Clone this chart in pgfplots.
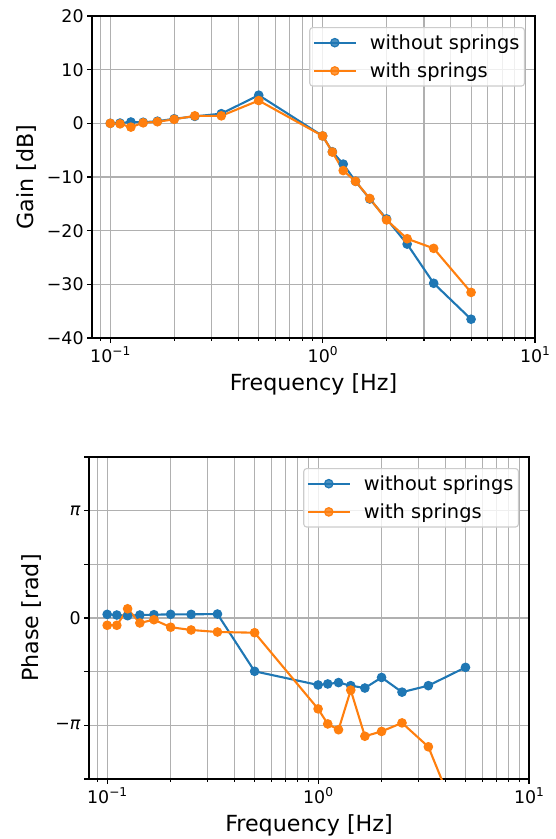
\documentclass[border=0pt]{standalone}
\usepackage{fontspec}
\setmainfont{DejaVu Sans}
\usepackage{pgfplots}
\pgfplotsset{compat=1.18}
\usepackage{pgfplotstable}

\definecolor{tabblue}{HTML}{1F77B4}
\definecolor{taborange}{HTML}{FF7F0E}
\definecolor{gridgray}{HTML}{B0B0B0}
\definecolor{legedge}{HTML}{CCCCCC}
\newcommand\tsup[1]{\raisebox{0.42em}{\fontsize{12.2}{12}\selectfont #1}}

% frequency, without springs, with springs
\pgfplotstableread{
f        wo      w
0.1      0.0     0.0
0.111111 0.05   -0.1
0.125    0.25   -0.7
0.142857 0.2     0.1
0.166667 0.4     0.3
0.2      0.85    0.75
0.25     1.3     1.4
0.333333 1.8     1.4
0.5      5.25    4.25
1       -2.35   -2.35
1.111111 -5.3   -5.35
1.25    -7.6    -8.8
1.428571 -10.8  -10.8
1.666667 -14.1  -14.0
2       -17.8   -18.0
2.5     -22.5   -21.5
3.333333 -29.8  -23.3
5       -36.5   -31.5
}\gaintab

\pgfplotstableread{
f        wo      w
0.1      0.107  -0.213
0.111111 0.087  -0.213
0.125    0.068   0.27
0.142857 0.087  -0.145
0.166667 0.097  -0.05
0.2      0.107  -0.27
0.25     0.107  -0.35
0.333333 0.116  -0.41
0.5     -1.56   -0.43
1       -1.96   -2.66
1.111111 -1.93  -3.10
1.25    -1.89   -3.27
1.428571 -1.98  -2.11
1.666667 -2.05  -3.46
2       -1.74   -3.32
2.5     -2.17   -3.07
3.333333 -1.98  -3.77
5       -1.445  -6.44
}\phasetab

\tikzset{series/.style={color=#1, line width=2.1pt, mark=*, mark size=4.2pt,
    mark options={solid, line width=1.2pt}}}

\pgfplotsset{
  every axis/.append style={
    scale only axis,
    height=322pt,
    xmin=0.082, xmax=10,
    xtick={0.1,1,10},
    xticklabels={10\tsup{−1},10\tsup{0},10\tsup{1}},
    minor xtick={0.09,0.2,0.3,0.4,0.5,0.6,0.7,0.8,0.9,2,3,4,5,6,7,8,9},
    grid=both,
    major grid style={gridgray, line width=1.1pt},
    minor grid style={gridgray, line width=1.1pt},
    axis line style={line width=1.1pt},
    tick style={black, line width=1.1pt},
    tick align=outside,
    major tick length=4.9pt,
    minor tick length=2.8pt,
    xtick pos=bottom, ytick pos=left,
    tick label style={font=\fontsize{17.4}{20}\selectfont},
    xlabel={Frequency [Hz]},
    legend cell align=left,
    legend style={at={(1,1)}, anchor=north east, xshift=-10pt, yshift=-11pt,
      draw=legedge, line width=1.1pt, rounded corners=3pt,
      fill=white, fill opacity=0.8, text opacity=1,
      font=\fontsize{19.4}{23}\selectfont, inner xsep=3pt, inner ysep=5pt,
      row sep=8pt},
  },
  every axis x label/.style={at={(axis description cs:0.5,0)}, anchor=center, yshift=-46pt,
    font=\fontsize{22.2}{26}\selectfont},
  legend image code/.code={\draw[mark repeat=2,mark phase=2] plot coordinates {(0pt,0pt) (21pt,0pt) (42pt,0pt)};
    \path (53pt,0pt);},
}

\begin{document}
\begin{tikzpicture}
\begin{semilogxaxis}[
    at={(92pt,-338pt)}, anchor=south west, width=443pt,
    ymin=-40, ymax=20,
    ytick={-40,-30,-20,-10,0,10,20},
    yticklabels={−40,−30,−20,−10,0,10,20},
    ylabel={Gain [dB]},
    every axis y label/.style={at={(axis description cs:-0.147,0.5)}, rotate=90, anchor=center,
      font=\fontsize{22.2}{26}\selectfont},
]
\addplot[series=tabblue] table[x=f, y=wo] {\gaintab};
\addlegendentry{without springs}
\addplot[series=taborange] table[x=f, y=w] {\gaintab};
\addlegendentry{with springs}
\end{semilogxaxis}

\begin{semilogxaxis}[
    at={(89pt,-779pt)}, anchor=south west, width=440pt,
    ymin=-4.712389, ymax=4.712389,
    ytick={-4.712389,-3.141593,-1.570796,0,1.570796,3.141593,4.712389},
    yticklabels={,−\textit{π},,0,,\textit{π},},
    ylabel={Phase [rad]},
    every axis y label/.style={at={(axis description cs:-0.13,0.5)}, rotate=90, anchor=center,
      font=\fontsize{22.2}{26}\selectfont},
]
\addplot[series=tabblue] table[x=f, y=wo] {\phasetab};
\addlegendentry{without springs}
\addplot[series=taborange] table[x=f, y=w] {\phasetab};
\addlegendentry{with springs}
\end{semilogxaxis}

\pgfresetboundingbox
\path[use as bounding box] (0pt,0pt) rectangle (556pt,-839pt);
\end{tikzpicture}
\end{document}
